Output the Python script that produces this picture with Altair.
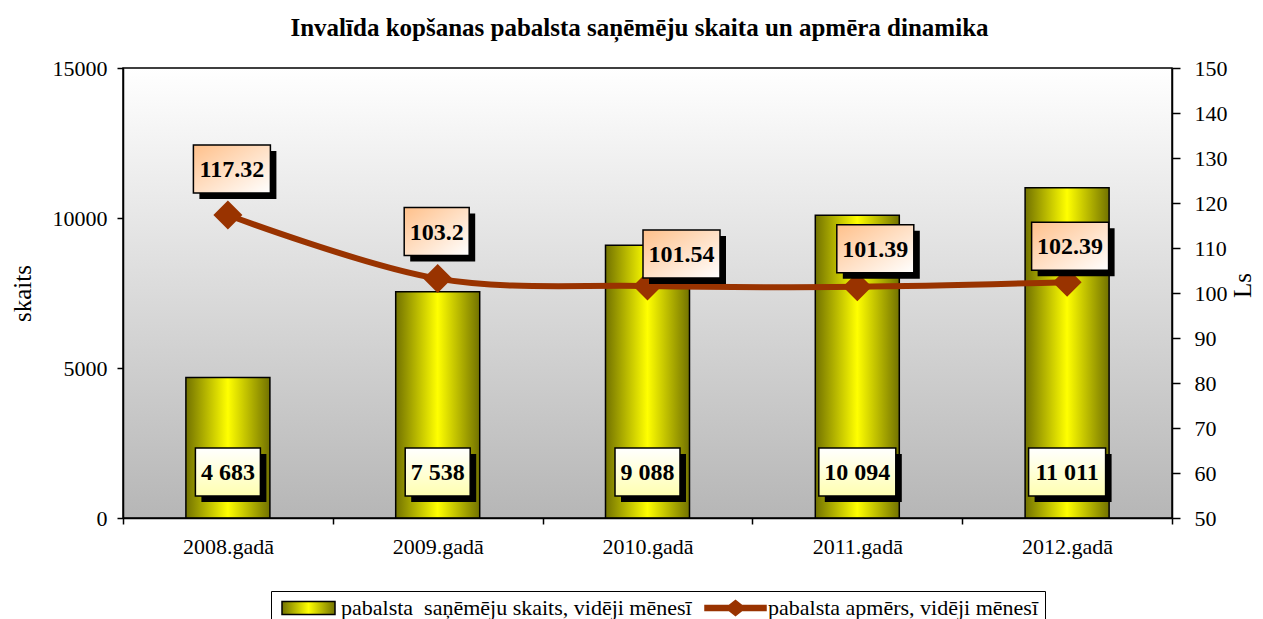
import altair as alt
import pandas as pd

# ---------------- data ----------------
years = ["2008.gadā", "2009.gadā", "2010.gadā", "2011.gadā", "2012.gadā"]
recipients = [4683, 7538, 9088, 10094, 11011]          # left axis (skaits)
amount = [117.32, 103.2, 101.54, 101.39, 102.39]       # right axis (Ls)
series_names = ["pabalsta\u00a0\u00a0saņēmēju skaits, vidēji mēnesī",
                "pabalsta apmērs, vidēji mēnesī"]
title_text = "Invalīda kopšanas pabalsta saņēmēju skaita un apmēra dinamika"
left_ticks = [0, 5000, 10000, 15000]
right_ticks = [50, 60, 70, 80, 90, 100, 110, 120, 130, 140, 150]

# label layout: pixel offsets of the line value boxes from their points
line_label_dx = [4, -1, 34, 18, 3]
line_label_dy = [-46, -47, -32, -38, -36]

# ---------------- styling ----------------
W, H = 1049, 450
FONT = "Liberation Serif"
LINE_COL = "#993300"


def grad(stops, x1=0, y1=0, x2=1, y2=0):
    return {"gradient": "linear", "x1": x1, "y1": y1, "x2": x2, "y2": y2,
            "stops": [{"offset": o, "color": c} for o, c in stops]}


bar_stops = [(0, "#727200"), (0.5, "#ffff00"), (1, "#727200")]
bar_grad = grad(bar_stops)
bg_grad = grad([(0, "#ffffff"), (1, "#b6b6b6")], 0, 0, 0, 1)
peach_grad = grad([(0, "#ffc08a"), (1, "#ffffff")], 0, 0, 1, 1)
pale_grad = grad([(0, "#ffffff"), (1, "#ffffb0")], 0, 0, 0, 1)

bar_grad_expr = ("{gradient: 'linear', x1: 0, y1: 0, x2: 1, y2: 0, stops: ["
                 + ", ".join(f"{{offset: {o}, color: '{c}'}}" for o, c in bar_stops)
                 + "]}")

bar_df = pd.DataFrame({
    "year": years,
    "count": recipients,
    "label": [f"{v:,}".replace(",", " ") for v in recipients],
})
line_df = pd.DataFrame({
    "year": years,
    "amount": amount,
    "label": [f"{v:g}" for v in amount],
})

X = alt.X("year:N", sort=years)


def box_path(w, h=48):
    r = h / w
    return f"M-1,-{r:.4f}L1,-{r:.4f}L1,{r:.4f}L-1,{r:.4f}Z"


def box_width(text):
    return 12 * len(text) + 5


# ---------------- left group (bars) ----------------
bg = alt.Chart(alt.Data(values=[{"bg": 1}])).mark_rect(
    fill=bg_grad, stroke="black", strokeWidth=1.5
).encode(x=alt.value(0), x2=alt.value(W), y=alt.value(0), y2=alt.value(H))

bars = alt.Chart(bar_df).mark_bar(
    size=84, fill=bar_grad, stroke="black", strokeWidth=1.5
).encode(
    x=alt.X("year:N", sort=years, title=None,
            scale=alt.Scale(paddingInner=0, paddingOuter=0),
            axis=alt.Axis(labelFont=FONT, labelFontSize=22, labelColor="black",
                          labelAngle=0, tickBand="extent", tickSize=6,
                          tickColor="black", tickWidth=1.5, domainColor="black",
                          domainWidth=1.5, labelPadding=12, zindex=1)),
    y=alt.Y("count:Q", scale=alt.Scale(domain=[0, 15000]),
            axis=alt.Axis(title="skaits", orient="left", values=left_ticks,
                          format="d", grid=False, labelFont=FONT,
                          labelFontSize=22, labelColor="black", tickSize=6,
                          tickColor="black", tickWidth=1.5, domainColor="black",
                          domainWidth=1.5, labelPadding=10, titleFont=FONT,
                          titleFontSize=25, titleFontWeight="normal",
                          titleColor="black", titleAngle=270,
                          titleX=-101, titleY=225, titleAlign="center",
                          titleBaseline="middle", zindex=1)),
)

left_layers = [bg, bars]
for i, lab in enumerate(bar_df["label"]):
    w = box_width(lab)
    row = alt.Chart(bar_df.iloc[[i]])
    left_layers.append(row.mark_point(
        shape=box_path(w), size=w * w, filled=True, fill="black", opacity=1,
        strokeWidth=0, xOffset=6, yOffset=6
    ).encode(x=X, y=alt.value(404)))
    left_layers.append(row.mark_point(
        shape=box_path(w), size=w * w, filled=True, fill=pale_grad,
        stroke="black", strokeWidth=1.5, opacity=1
    ).encode(x=X, y=alt.value(404)))
    left_layers.append(row.mark_text(
        font=FONT, fontWeight="bold", fontSize=24, color="black",
        baseline="middle", dy=1
    ).encode(x=X, y=alt.value(404), text="label:N"))

left_group = alt.layer(*left_layers)

# ---------------- right group (line) ----------------
line = alt.Chart(line_df).mark_line(
    interpolate="catmull-rom", color=LINE_COL, strokeWidth=6
).encode(
    x=X,
    y=alt.Y("amount:Q", scale=alt.Scale(domain=[50, 150]),
            axis=alt.Axis(title="Ls", orient="right", values=right_ticks,
                          grid=False, labelFont=FONT, labelFontSize=22,
                          labelColor="black", tickSize=8, tickColor="black",
                          tickWidth=1.5, domainColor="black", domainWidth=1.5,
                          labelPadding=14, titleFont=FONT, titleFontSize=25,
                          titleFontWeight="normal", titleColor="black",
                          titleAngle=270, titleX=70, titleY=217,
                          titleAlign="center", titleBaseline="middle",
                          zindex=1)),
)

diamonds = alt.Chart(line_df).mark_point(
    shape="diamond", filled=True, size=841, color=LINE_COL, opacity=1
).encode(x=X, y="amount:Q")

# legend symbols (unit = 10 px, symbol size 400)
legend_paths = [
    "M-2.65,-0.65L2.65,-0.65L2.65,0.65L-2.65,0.65Z",
    "M-3.05,-0.25L-0.65,-0.25L0,-0.75L0.65,-0.25L3.05,-0.25L3.05,0.25"
    "L0.65,0.25L0,0.75L-0.65,0.25L-3.05,0.25Z",
]
leg = dict(title=None, orient="none", legendX=148, legendY=523,
           direction="horizontal", columns=2)
legend_layer = alt.Chart(line_df).transform_filter("false").mark_point(
    filled=True, opacity=1, strokeWidth=1.5
).encode(
    x=X, y="amount:Q",
    color=alt.Color("series:N",
                    scale=alt.Scale(domain=series_names,
                                    range=[{"expr": bar_grad_expr}, LINE_COL]),
                    legend=alt.Legend(**leg)),
    shape=alt.Shape("series:N",
                    scale=alt.Scale(domain=series_names, range=legend_paths),
                    legend=alt.Legend(**leg)),
    stroke=alt.Stroke("series:N",
                      scale=alt.Scale(domain=series_names,
                                      range=["black", LINE_COL]),
                      legend=alt.Legend(**leg)),
)

right_layers = [line, diamonds, legend_layer]
for i, lab in enumerate(line_df["label"]):
    w = box_width(lab)
    dx, dy = line_label_dx[i], line_label_dy[i]
    row = alt.Chart(line_df.iloc[[i]])
    right_layers.append(row.mark_point(
        shape=box_path(w), size=w * w, filled=True, fill="black", opacity=1,
        strokeWidth=0, xOffset=dx + 6, yOffset=dy + 6
    ).encode(x=X, y="amount:Q"))
    right_layers.append(row.mark_point(
        shape=box_path(w), size=w * w, filled=True, fill=peach_grad,
        stroke="black", strokeWidth=1.5, opacity=1, xOffset=dx, yOffset=dy
    ).encode(x=X, y="amount:Q"))
    right_layers.append(row.mark_text(
        font=FONT, fontWeight="bold", fontSize=24, color="black",
        baseline="middle", dx=dx, dy=dy + 1
    ).encode(x=X, y="amount:Q", text="label:N"))

right_group = alt.layer(*right_layers)

chart = alt.layer(left_group, right_group).resolve_scale(
    y="independent"
).properties(
    width=W, height=H,
    title=alt.TitleParams(text=title_text, font=FONT, fontSize=25,
                          fontWeight="bold", color="black", anchor="middle",
                          offset=16, dx=-8),
    padding={"left": 115, "top": 60, "right": 83, "bottom": 101},
    autosize=alt.AutoSizeParams(type="none"),
).configure_view(
    stroke=None
).configure_legend(
    labelFont=FONT, labelFontSize=22, labelColor="black", labelLimit=700,
    strokeColor="black", fillColor="white", padding=6, symbolSize=400,
    symbolOffset=20.5, columnPadding=10, labelOffset=21.5,
    symbolStrokeWidth=1.5, cornerRadius=0,
)

chart.save("out.html", embed_options={"renderer": "svg", "actions": False})
